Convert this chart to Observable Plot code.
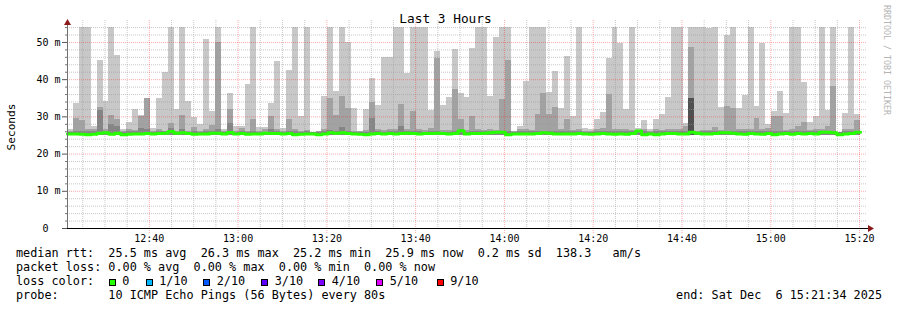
<!DOCTYPE html>
<html><head><meta charset="utf-8">
<script src="https://cdn.jsdelivr.net/npm/d3@7"></script>
<script src="https://cdn.jsdelivr.net/npm/@observablehq/plot@0.6"></script>
<style>
html,body{margin:0;padding:0;background:#fff;}
#wrap{position:relative;width:897px;height:310px;overflow:hidden;font-family:"DejaVu Sans Mono",monospace;color:#000;background:#fff;}
.t{position:absolute;white-space:pre;line-height:1;}
#chart{position:absolute;left:0;top:0;}
.box{position:absolute;width:7px;height:7px;box-sizing:border-box;border:1px solid #000;}
</style></head><body><div id="wrap"><div id="chart"></div></div>
<script>
// ---- data (ms) ----
const hi = [
26.5,33.7,54,54,27.4,45.1,34.2,54,46.5,26.5,
28.6,32,30.3,34.9,27,35,42,54,32,54,
34.2,29.9,27.9,50.8,31.5,54,26.5,36.3,27.4,27.4,
38.8,54,27.2,27.2,33.7,44.9,27,42.5,54,30.1,
54,25.8,26.1,35.5,54,36.8,54,50,32.2,26.1,
32,40.2,33,46,46,54,54,41.7,54,54,
54,31.8,47.6,33,35.2,48.1,36.3,35.2,48.4,54,
54,35.5,51.4,54,54,26.1,27.4,39.5,54,54,
54,36.5,42.2,32.2,46.2,30.1,54,27,26.5,29.2,
31.2,45.8,54,49.8,32,54,26.8,29,26.5,29.2,
30.6,35.2,54,54,28.3,54,54,54,53.7,54,
32.4,51.8,54,32.2,35.7,54,32.8,49.8,28,31.5,
36.8,30.9,54,54,39.3,28.5,30.1,54,31.8,54,
25.8,30.9,54,30.6];
const mid = [
26.0,29.6,29,26.5,26.5,32.6,26.5,30.4,29.4,26,
26.5,26.3,30.0,34.9,26.2,26.5,26.2,28.2,26,30.4,
26,27.2,26,26.5,27.7,50.1,26,31.9,26.2,26.8,
26,29.4,26,26.5,30,26.7,26.2,29.4,26.5,26.2,
26.3,25.8,26,26.7,34.9,30.3,35.5,32.2,26.2,26,
26.3,33.9,26.7,26.3,26.5,26.5,33.3,26.5,31.4,26.7,
26.3,26.8,45.8,26.3,26.3,37.3,29.2,26.3,30,26.5,
26.3,26.5,26.3,34.7,45.1,26,26.5,26.5,26.3,30.6,
36.3,30.6,32.5,26.5,29.4,26.3,26.5,26.2,26.2,26.5,
26.8,36,26.5,26.5,26.5,26.3,26.2,26.5,26.2,26.5,
26.3,26.5,26.5,26.5,27.4,48.7,26.2,26.3,26.3,27.2,
26.3,32.8,32.2,26.5,26.5,26.5,29.6,26.5,26.8,30.1,
30.1,26.3,26.5,27.4,28.5,26.3,26.5,26.5,27.4,38.2,
25.8,26.5,26.5,29];
const dark = [
25.9,26,26,26,26,31.7,26,28,27.4,25.8,
26.2,26,27,26.5,25.8,26,26,26.8,25.8,26.5,
25.8,26,25.8,26.2,26,26.5,25.8,28.2,25.8,26,
25.8,26,25.8,25.8,26.5,26.2,25.9,26.2,26,25.9,
26,25.7,25.9,26.2,26.3,26.2,27.2,26.2,25.9,25.9,
25.9,29.6,26.2,25.9,26.2,26.2,27.4,26.2,26.2,26.2,
25.9,26.2,26.2,25.9,25.9,26.2,26.7,25.9,26.2,26,
26,26,26,26.2,26.2,25.9,26,26,26,26.2,
26.2,26.2,26.2,26,26.2,26,26,25.9,25.9,26,
26,26.2,26,26,26,26,26,26,25.9,26,
26,26,26,26,26.2,35,25.9,26,26,26.2,
26,26.2,26.2,26,26,26,26.2,26,26,26.2,
26.2,26,26,26.2,26.2,26,26,26,26.2,26.2,
25.7,26,26,26.2];
const darkestIdx = [105];
const darkestTop = [35];
const median = [
25.4,25.4,25.3,25.2,25.3,25.6,25.7,25.3,25.6,25.2,
25.3,25.4,25.4,25.5,25.4,25.5,25.6,26.1,25.6,25.7,
25.5,25.3,25.4,25.4,25.6,25.6,25.4,25.8,25.4,25.5,
25.3,25.4,25.4,25.6,25.5,25.5,25.4,25.5,25.2,25.3,
25.4,25.4,25.2,25.4,25.7,25.6,25.7,25.5,25.4,25.3,
25.2,25.4,25.5,25.4,25.5,25.4,25.5,25.6,25.5,25.4,
25.5,25.5,25.6,25.5,25.4,25.5,26.3,25.4,25.5,25.5,
25.6,25.7,25.9,25.9,25.2,25.4,25.4,25.4,25.4,25.5,
25.7,25.6,25.4,25.4,25.4,25.4,25.5,25.4,25.3,25.4,
25.5,25.4,25.3,25.4,25.3,25.5,26.2,25.2,25.4,25.2,
25.4,25.5,25.5,25.4,25.4,25.9,25.6,25.4,25.4,25.5,
25.7,25.7,25.6,25.4,25.3,25.5,25.4,25.3,25.5,25.2,
25.4,25.5,25.3,25.5,25.4,25.5,25.4,25.9,25.9,25.7,
25.2,25.4,25.5,25.9];
const smokeFloor = 24.9;
const yTicks = [0, 10, 20, 30, 40, 50];
const startUTC = [2025, 11, 6, 12, 21, 34];
const stepSeconds = 80;
const spanHours = 3;

// ---- texts ----
const title = "Last 3 Hours";
const yLabel = "Seconds";
const legendLines = [
  "median rtt:  25.5 ms avg  26.3 ms max  25.2 ms min  25.9 ms now  0.2 ms sd  138.3   am/s",
  "packet loss: 0.00 % avg  0.00 % max  0.00 % min  0.00 % now"
];
const lossTitle = "loss color:";
const lossLabels = ["0", "1/10", "2/10", "3/10", "4/10", "5/10", "9/10"];
const lossColors = ["#26ff00", "#00b8ff", "#0059ff", "#5e00ff", "#7e00ff", "#dd00ff", "#ff0000"];
const probeText = "probe:       10 ICMP Echo Pings (56 Bytes) every 80s";
const endText = "end: Sat Dec  6 15:21:34 2025";
const watermark = "RRDTOOL / TOBI OETIKER";

// ---- build ----
const startMs = Date.UTC(...startUTC);
const x0 = new Date(startMs), x1 = new Date(startMs + spanHours * 3600e3);
const data = hi.map((h, i) => ({
  t0: new Date(startMs + i * stepSeconds * 1000),
  t1: new Date(startMs + (i + 1) * stepSeconds * 1000),
  lo: smokeFloor, hi: h, mid: mid[i], dark: dark[i], med: median[i]
}));
const coreData = darkestIdx.map((k, j) => ({...data[k], core: darkestTop[j]}));
const medPts = data.map(d => ({t: d.t0, v: d.med})).concat([{t: data[data.length - 1].t1, v: data[data.length - 1].med}]);

const minorX = d3.utcMinute.every(5).range(x0, x1).filter(d => d.getUTCMinutes() % 20 !== 0);
const majorX = d3.utcMinute.every(20).range(x0, x1);
const minorY = d3.range(2, 55, 2).filter(v => v % 10 !== 0);
const majorY = yTicks.filter(v => v > 0);

const rectOpts = {x1: "t0", x2: "t1", y1: "lo", inset: 0, shapeRendering: "crispEdges"};
const W = 897, ML = 67, MR = 31, MT = 20, MB = 22, H = 250;
const minorGrid = {stroke: "#9a9a9a", strokeOpacity: 0.55, strokeDasharray: "1,1"};
const majorGrid = {stroke: "#ff0000", strokeOpacity: 0.33, strokeDasharray: "1,1"};

const plot = Plot.plot({
  width: W, height: H,
  marginLeft: ML, marginRight: MR, marginTop: MT, marginBottom: MB,
  style: {fontFamily: '"DejaVu Sans Mono", monospace', fontSize: "10px", background: "transparent", overflow: "visible", color: "#000"},
  x: {type: "utc", domain: [x0, x1]},
  y: {domain: [0, 55.9]},
  marks: [
    Plot.rectY(data, {...rectOpts, y2: "hi", fill: "#c8c8c8"}),
    Plot.rectY(data, {...rectOpts, y2: "mid", fill: "#a2a2a2"}),
    Plot.rectY(data, {...rectOpts, y2: "dark", fill: "#858585"}),
    Plot.rectY(coreData, {...rectOpts, y2: "core", fill: "#505050"}),
    Plot.ruleY(minorY, minorGrid),
    Plot.ruleY(majorY, majorGrid),
    Plot.ruleX(minorX, minorGrid),
    Plot.ruleX(majorX, majorGrid),
    Plot.line(medPts, {x: "t", y: "v", curve: "step-after", stroke: "#26ff00", strokeWidth: 3}),
    Plot.axisX({ticks: majorX, tickFormat: d3.utcFormat("%H:%M"), tickSize: 5, tickPadding: 1, label: null, fill: "#000", stroke: "#ff0000", strokeOpacity: 0.33, strokeDasharray: "1,1"}),
    Plot.axisY({ticks: minorY, tickFormat: () => "", tickSize: 2, label: null, stroke: "#777"}),
    Plot.axisY({ticks: yTicks, tickFormat: d => d === 0 ? "0\u2007\u2007" : `${d} m`, tickSize: 5, tickPadding: 2, label: null, stroke: "#555", fill: "#000"}),
    Plot.ruleY([0], {stroke: "#000"}),
    Plot.ruleX([x0], {stroke: "#707070"})
  ]
});
document.getElementById("chart").appendChild(plot);

// axis arrows
const sx = plot.scale("x"), sy = plot.scale("y");
const svg = d3.select(plot);
const axEnd = sx.apply(x1), ay0 = sy.apply(0) + 0.5;
svg.append("line").attr("x1", axEnd).attr("x2", axEnd + 4).attr("y1", ay0).attr("y2", ay0).attr("stroke", "#000");
svg.append("path").attr("d", `M${axEnd + 2},${ay0 - 3.5}L${axEnd + 8},${ay0}L${axEnd + 2},${ay0 + 3.5}Z`).attr("fill", "#8b1a1a");
const axX = sx.apply(x0) + 0.5, ayTop = sy.apply(55.9);
svg.append("path").attr("d", `M${axX - 3.5},${ayTop + 5}L${axX},${ayTop - 1}L${axX + 3.5},${ayTop + 5}Z`).attr("fill", "#8b1a1a");

// texts
const wrap = document.getElementById("wrap");
function addText(txt, left, top, size, extra) {
  const d = document.createElement("div");
  d.className = "t";
  d.textContent = txt;
  d.style.left = left + "px";
  d.style.top = top + "px";
  d.style.fontSize = size + "px";
  if (extra) Object.assign(d.style, extra);
  wrap.appendChild(d);
  return d;
}
addText(title, 445.5, 13.3, 12.8, {transform: "translateX(-50%)"});
addText(yLabel, 11.5, 126.5, 11.1, {transform: "translate(-50%,-50%) rotate(-90deg)"});
addText(watermark, 886.5, 60, 8.3, {transform: "translate(-50%,-50%) rotate(90deg)", color: "#b4b4b4"});
const fs = 11.8;
addText(legendLines[0], 16, 247.7, fs);
addText(legendLines[1], 16, 261.7, fs);
addText(lossTitle, 16, 275.7, fs);
const boxX = [108.5, 145.5, 203, 261, 318, 376, 436.5];
lossLabels.forEach((lab, i) => {
  const b = document.createElement("div");
  b.className = "box";
  b.style.left = boxX[i] + "px";
  b.style.top = "279px";
  b.style.background = lossColors[i];
  wrap.appendChild(b);
  addText(lab, boxX[i] + 13.7, 275.7, fs);
});
addText(probeText, 16, 289.7, fs);
addText(endText, 882, 289.7, fs, {transform: "translateX(-100%)"});
</script></body></html>
